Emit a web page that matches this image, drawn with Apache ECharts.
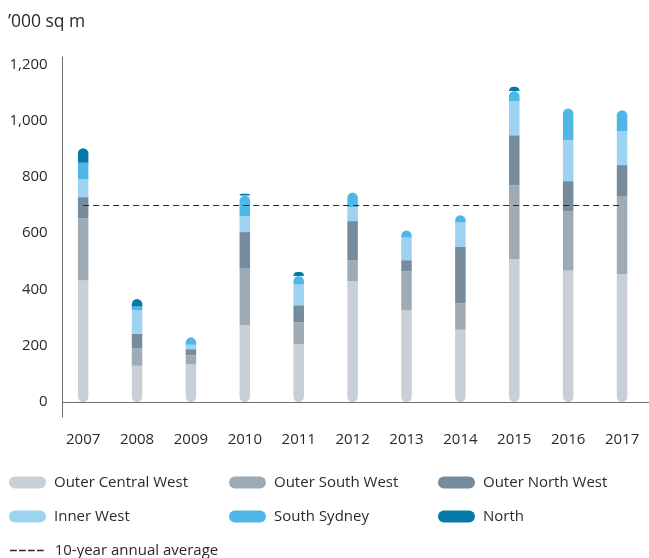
<!DOCTYPE html>
<html>
<head>
<meta charset="utf-8">
<script src="https://cdn.jsdelivr.net/npm/echarts@6/dist/echarts.min.js"></script>
<style>
  html, body { margin: 0; padding: 0; background: #ffffff; }
  #chart { width: 649px; height: 558px; }
</style>
</head>
<body>
<div id="chart"></div>
<script>
// Annual floor space by region, '000 sq m
const years = ['2007', '2008', '2009', '2010', '2011', '2012', '2013', '2014', '2015', '2016', '2017'];
const outerCentralWest = [432, 129, 134, 273, 205, 430, 326, 257, 507, 467, 455];
const outerSouthWest   = [220,  62,  32, 201,  78,  74, 139,  94, 263, 211, 275];
const outerNorthWest   = [ 76,  52,  22, 130,  61, 139,  39, 200, 178, 107, 112];
const innerWest        = [ 63,  83,  16,  56,  74,  50,  81,  87, 122, 145, 121];
const southSydney      = [ 59,  14,  26,  74,  30,  52,  25,  26,  35, 113,  74];
const north            = [ 52,  26,   0,   6,  14,   0,   0,   0,  15,   0,   0];
const tenYearAverage = 700;
const yTickValues = [0, 200, 400, 600, 800, 1000, 1200];

const regions = [
  { name: 'Outer Central West', values: outerCentralWest, color: '#c8cfd6' },
  { name: 'Outer South West',   values: outerSouthWest,   color: '#9eabb5' },
  { name: 'Outer North West',   values: outerNorthWest,   color: '#768b9b' },
  { name: 'Inner West',         values: innerWest,        color: '#9dd3f1' },
  { name: 'South Sydney',       values: southSydney,      color: '#4fb6e6' },
  { name: 'North',              values: north,            color: '#037aa8' }
];
const AVG_NAME = '10-year annual average';

const TEXT = '#2a2a2a';
const FONT = 'Open Sans';
const BAR_W = 10.5;
const R = BAR_W / 2;

// Shared vertical extent of both grids (axis runs a little below zero and above 1,200)
const GRID_TOP = 57;
const GRID_HEIGHT = 360;
const Y_MIN = -53;
const Y_MAX = 1226;

// Index of the topmost non-empty segment of a stacked column
function topSegment(ci) {
  for (let si = regions.length - 1; si >= 0; si--) {
    if (regions[si].values[ci] > 0) return si;
  }
  return 0;
}
function segmentBelow(ci, si) {
  for (let k = si - 1; k >= 0; k--) {
    if (regions[k].values[ci] > 0) return k;
  }
  return -1;
}

const barSeries = regions.map((r, si) => ({
  type: 'bar',
  name: r.name,
  stack: 'total',
  xAxisIndex: 1,
  yAxisIndex: 1,
  barWidth: BAR_W,
  color: r.color,
  itemStyle: { color: r.color },
  emphasis: { disabled: true },
  data: r.values.map((v, ci) => {
    const top = topSegment(ci);
    const thinTop = regions[top].values[ci] < 18;
    const rad = [0, 0, 0, 0];
    if (si === top || (thinTop && si === segmentBelow(ci, top))) { rad[0] = R; rad[1] = R; }
    if (si === 0) { rad[2] = R; rad[3] = R; }
    return { value: v, itemStyle: { borderRadius: rad } };
  })
}));

const averageSeries = {
  type: 'line',
  name: AVG_NAME,
  xAxisIndex: 1,
  yAxisIndex: 1,
  data: [],
  color: '#2b2b2b',
  z: 5,
  markLine: {
    silent: true,
    symbol: 'none',
    label: { show: false },
    emphasis: { disabled: true },
    lineStyle: { color: '#2b2b2b', type: [6, 4], width: 1.2 },
    data: [[
      { coord: [years[0], tenYearAverage] },
      { coord: [years[years.length - 1], tenYearAverage] }
    ]]
  }
};

const CAPSULE = 'path://M6,0H31A6,6,0,0,1,31,12H6A6,6,0,0,1,6,0Z';
const DASHES = 'path://M0,0H6.7V1.4H0Z M9,0H15.7V1.4H9Z M18,0H24.7V1.4H18Z M27,0H33.7V1.4H27Z';

function columnLegend(left, names) {
  return {
    orient: 'vertical',
    left: left,
    top: 475,
    itemWidth: 37,
    itemHeight: 12,
    itemGap: 19,
    icon: CAPSULE,
    selectedMode: false,
    padding: 0,
    textStyle: { fontFamily: FONT, fontSize: 15, color: TEXT, padding: [0, 0, 0, 3] },
    data: names
  };
}

const chart = echarts.init(document.getElementById('chart'), null, { renderer: 'canvas' });
chart.setOption({
  animation: false,
  backgroundColor: '#ffffff',
  title: {
    text: '\u2019000 sq m',
    left: 8,
    top: 13,
    padding: 0,
    textStyle: { fontFamily: FONT, fontSize: 17.5, fontWeight: 'normal', color: TEXT }
  },
  legend: [
    columnLegend(9, [regions[0].name, regions[3].name]),
    columnLegend(229, [regions[1].name, regions[4].name]),
    columnLegend(438, [regions[2].name, regions[5].name]),
    {
      left: 10,
      top: 543,
      itemWidth: 33.7,
      itemHeight: 1.4,
      icon: DASHES,
      selectedMode: false,
      padding: 0,
      textStyle: { fontFamily: FONT, fontSize: 15, color: TEXT, padding: [0, 0, 0, 6] },
      data: [AVG_NAME]
    }
  ],
  grid: [
    // frame: axis lines and value labels
    { left: 62.7, right: -4, top: GRID_TOP, height: GRID_HEIGHT },
    // columns, one category band per year
    { left: 56.2, width: 604.6, top: GRID_TOP, height: GRID_HEIGHT }
  ],
  xAxis: [
    {
      gridIndex: 0, type: 'value', min: 0, max: 1,
      axisLine: { show: true, lineStyle: { color: '#6e6e6e', width: 1 } },
      axisTick: { show: false }, axisLabel: { show: false }, splitLine: { show: false }
    },
    {
      gridIndex: 1, type: 'category', data: years,
      axisLine: { show: false }, axisTick: { show: false }, splitLine: { show: false },
      axisLabel: { margin: 15, fontFamily: FONT, fontSize: 15, color: TEXT, interval: 0 }
    }
  ],
  yAxis: [
    {
      gridIndex: 0, type: 'value', min: Y_MIN, max: Y_MAX,
      axisLine: { show: true, lineStyle: { color: '#6e6e6e', width: 1 } },
      axisTick: { show: false }, splitLine: { show: false },
      axisLabel: {
        customValues: yTickValues,
        margin: 15,
        fontFamily: FONT, fontSize: 15, color: TEXT,
        formatter: v => Number(v).toLocaleString('en-US')
      }
    },
    {
      gridIndex: 1, type: 'value', min: Y_MIN, max: Y_MAX, show: false,
      splitLine: { show: false }
    }
  ],
  series: [...barSeries, averageSeries]
});
</script>
</body>
</html>
